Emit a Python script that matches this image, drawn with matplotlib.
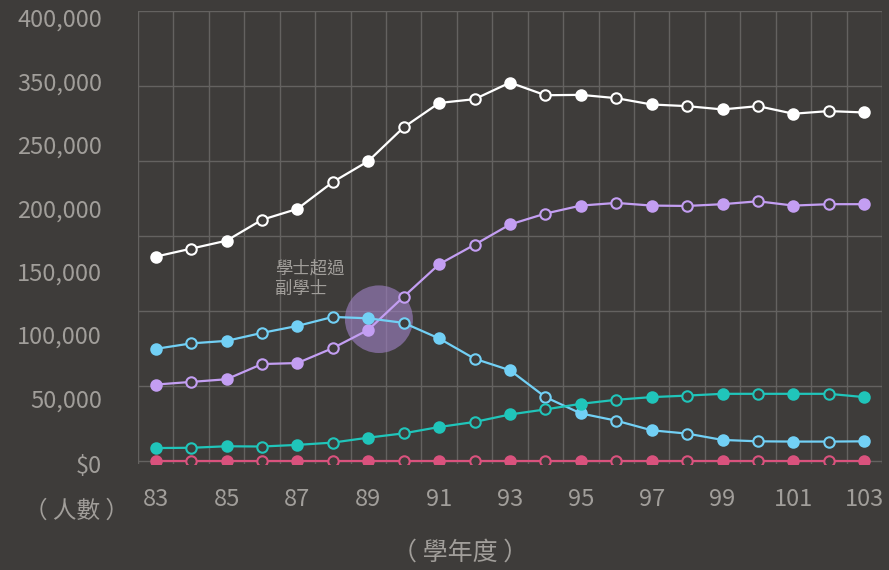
import numpy as np
import matplotlib
matplotlib.use("Agg")
import matplotlib.pyplot as plt
from matplotlib.patches import Ellipse

plt.rcParams['font.family'] = ['Noto Sans CJK TC', 'DejaVu Sans']
plt.rcParams['font.weight'] = 'light'

# school years (ROC calendar)
years = list(range(83, 104))

# students per degree level
total = [161700, 168000, 174300, 190800, 199400, 220600, 237100, 263800, 283000, 286000,
         299100, 289100, 289400, 286800, 281800, 280500, 277900, 280500, 274500, 276600, 275500]
bachelor = [60700, 62800, 64900, 76900, 77700, 89500, 103900, 130100, 155700, 171100,
            187100, 195700, 202000, 204100, 202000, 201700, 203100, 205400, 202000, 203100, 203100]
associate = [88900, 93200, 95200, 101500, 107000, 114100, 113000, 109400, 97100, 81100,
             72000, 50800, 37900, 32200, 24600, 22000, 17000, 15900, 15700, 15700, 15900]
master = [10600, 10800, 12000, 11800, 13100, 14900, 18800, 22200, 27200, 31200,
          37100, 41100, 45500, 48700, 50800, 52000, 53400, 53400, 53400, 53400, 50800]
doctor = [0] * 21

series = [
    (total, '#ffffff'),
    (bachelor, '#c39ef2'),
    (associate, '#72d0f5'),
    (master, '#20c5ba'),
    (doctor, '#d9527d'),
]

y_labels = ['$0', '50,000', '100,000', '150,000', '200,000', '250,000', '350,000', '400,000']

bg = '#3e3c3a'
grid_c = '#646260'
text_c = '#a19e9a'

fig = plt.figure(figsize=(8.89, 5.70), dpi=100, facecolor=bg)
ax = fig.add_axes([138 / 889, 106 / 570, 744 / 889, 453 / 570])
ax.set_facecolor(bg)

y_top = 355600
ax.set_xlim(82.5, 103.5)
ax.set_ylim(0, y_top)

# grid: vertical lines between years, 6 horizontal bands
for xv in np.arange(82.5, 104, 1.0):
    ax.axvline(xv, color=grid_c, lw=1, zorder=0)
for yv in np.linspace(0, y_top, 7):
    ax.axhline(yv, color=grid_c, lw=1, zorder=0)
for s in ax.spines.values():
    s.set_visible(False)

# highlight where bachelor overtakes associate
circ = Ellipse((89.3, 112300), width=68 / 35.43, height=68 * 785,
               color='#9e80c4', alpha=0.62, lw=0, zorder=2)
ax.add_patch(circ)
ax.text(86.36, 144000, '學士超過\n副學士', color=text_c, fontsize=12.5,
        ha='left', va='center', linespacing=1.2, zorder=3)

for vals, col in series:
    ax.plot(years, vals, color=col, lw=1.6, zorder=3)
    ax.plot(years[::2], vals[::2], ls='none', marker='o', ms=7.5,
            mfc=col, mec=col, mew=1.5, zorder=4)
    ax.plot(years[1::2], vals[1::2], ls='none', marker='o', ms=7.5,
            mfc=bg, mec=col, mew=1.5, zorder=4)

ax.set_xticks(range(83, 104, 2))
ax.set_xticklabels([str(v) for v in range(83, 104, 2)])
ax.set_yticks([i * 50000 - (2000 if i == 0 else 0) for i in range(8)])
ax.set_yticklabels(y_labels)
ax.tick_params(axis='both', length=0, colors=text_c, labelsize=17)
ax.tick_params(axis='y', pad=26)
ax.tick_params(axis='x', pad=17)

fig.text(77 / 889, 1 - 511 / 570, '（ 人數 ）', color=text_c, fontsize=17,
         ha='center', va='center')
fig.text(460 / 889, 1 - 553 / 570, '（ 學年度 ）', color=text_c, fontsize=18,
         ha='center', va='center')

fig.savefig('out.png', dpi=100, facecolor=bg)
